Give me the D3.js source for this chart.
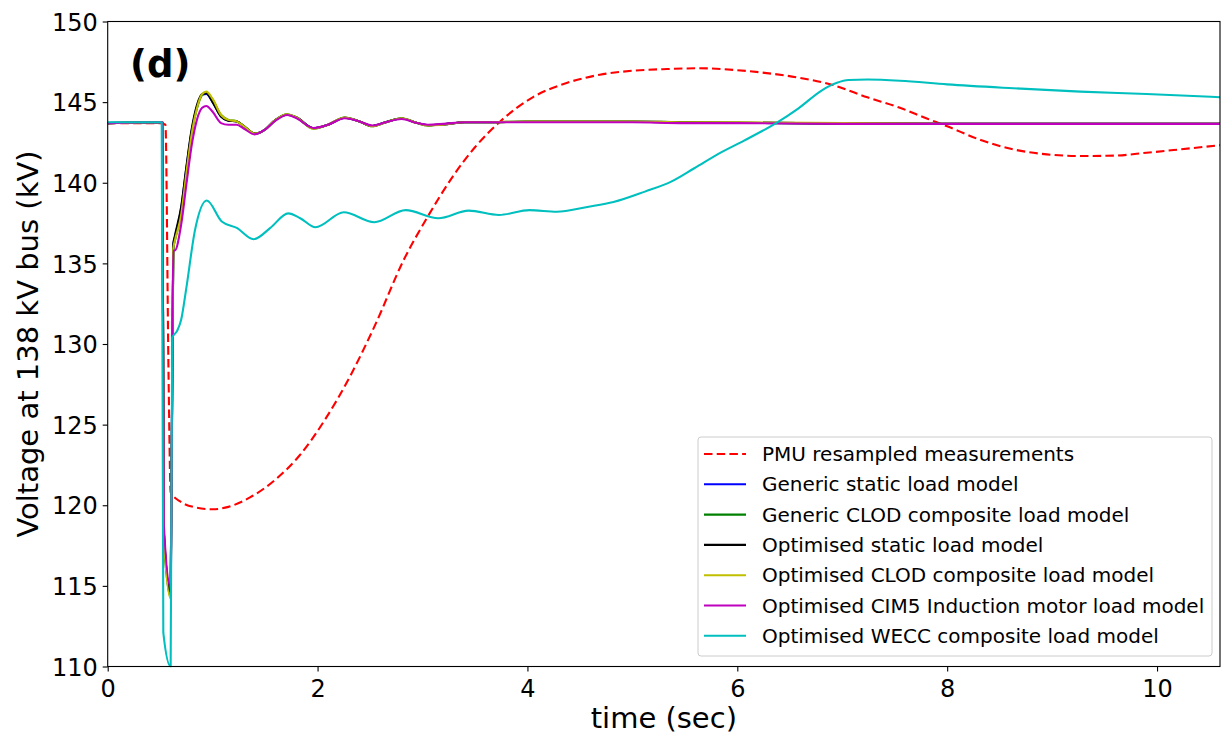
<!DOCTYPE html>
<html>
<head>
<meta charset="utf-8">
<script src="https://cdn.jsdelivr.net/npm/d3@7"></script>
<style>
  body { margin: 0; background: #fff; }
  text { font-family: "DejaVu Sans", sans-serif; }
</style>
</head>
<body>
<svg id="chart" width="1225" height="740"></svg>
<script>
// time axis ticks
const xTicks = [0, 2, 4, 6, 8, 10];
const yTicks = [110, 115, 120, 125, 130, 135, 140, 145, 150];

// PMU measurement (red dashed)
const tPmu = [0, 0.5, 0.55, 0.58, 0.6, 0.7, 0.85, 1.0, 1.15, 1.36, 1.6, 1.83, 2.07, 2.31, 2.55, 2.82, 3.05, 3.29, 3.5, 3.74,
  4.05, 4.38, 4.69, 5.01, 5.33, 5.64, 5.96, 6.28, 6.6, 6.91, 7.24, 7.55, 7.8, 8.0, 8.32, 8.63, 8.95, 9.27, 9.59, 9.9, 10.22, 10.62];
const vPmu = [143.7, 143.7, 143.6, 128, 120.8, 120.2, 119.85, 119.75, 119.9, 120.5, 121.6, 123.1, 125.3, 128.0, 131.2, 135.2, 137.9, 140.4, 142.2, 143.8,
  145.3, 146.2, 146.7, 146.95, 147.05, 147.1, 147.0, 146.8, 146.5, 146.06, 145.3, 144.65, 144.0, 143.5, 142.65, 142.07, 141.76, 141.66, 141.68, 141.86, 142.07, 142.34];

// static / CLOD / CIM5 models share one time base
const tMain = [0, 0.52, 0.535, 0.6, 0.625, 0.64, 0.7, 0.75, 0.8, 0.85, 0.9, 0.94, 1.0, 1.08, 1.15, 1.23, 1.3, 1.4, 1.5, 1.6, 1.71,
  1.8, 1.96, 2.1, 2.26, 2.4, 2.52, 2.65, 2.8, 2.95, 3.05, 3.2, 3.4, 3.6, 4.0, 4.5, 5.0, 5.5, 6.0, 7.0, 8.0, 9.0, 10.6];
const vGenStatic = [143.7, 143.75, 118.3, 114.6, 136.1, 136.6, 138.4, 140.9, 143.2, 144.7, 145.45, 145.5, 145.0, 144.1, 143.85, 143.8, 143.5, 143.05, 143.3, 143.9, 144.22,
  144.05, 143.38, 143.6, 144.03, 143.8, 143.52, 143.75, 143.98, 143.7, 143.57, 143.62, 143.75, 143.75, 143.78, 143.78, 143.78, 143.75, 143.72, 143.68, 143.65, 143.65, 143.65];
const vGenClod = [143.7, 143.75, 118.0, 114.3, 135.9, 136.4, 138.1, 140.7, 143.1, 144.6, 145.45, 145.6, 145.15, 144.2, 143.9, 143.8, 143.5, 143.05, 143.3, 143.9, 144.25,
  144.05, 143.36, 143.6, 144.05, 143.8, 143.5, 143.75, 144.0, 143.7, 143.55, 143.62, 143.75, 143.75, 143.8, 143.8, 143.8, 143.75, 143.72, 143.68, 143.65, 143.65, 143.65];
const vOptStatic = [143.7, 143.75, 118.3, 114.6, 136.2, 136.7, 138.5, 141.0, 143.3, 144.8, 145.5, 145.55, 145.0, 144.1, 143.85, 143.8, 143.5, 143.05, 143.3, 143.9, 144.22,
  144.05, 143.38, 143.6, 144.03, 143.8, 143.52, 143.75, 143.98, 143.7, 143.57, 143.62, 143.75, 143.75, 143.78, 143.78, 143.78, 143.75, 143.72, 143.68, 143.65, 143.65, 143.65];
const vOptClod = [143.7, 143.75, 118.0, 114.2, 135.9, 136.4, 138.0, 140.6, 143.0, 144.6, 145.5, 145.65, 145.2, 144.2, 143.9, 143.8, 143.5, 143.05, 143.3, 143.9, 144.25,
  144.05, 143.35, 143.6, 144.05, 143.8, 143.5, 143.75, 144.0, 143.7, 143.55, 143.6, 143.75, 143.75, 143.8, 143.8, 143.8, 143.75, 143.75, 143.7, 143.65, 143.65, 143.65];
const vOptCim5 = [143.7, 143.75, 118.8, 114.9, 135.8, 135.8, 137.4, 139.9, 142.3, 143.9, 144.65, 144.76, 144.4, 143.7, 143.6, 143.6, 143.35, 143.0, 143.3, 143.85, 144.2,
  144.0, 143.4, 143.6, 144.0, 143.8, 143.55, 143.75, 143.95, 143.7, 143.6, 143.65, 143.75, 143.75, 143.75, 143.75, 143.75, 143.7, 143.7, 143.65, 143.65, 143.65, 143.65];

// WECC composite model (cyan)
const tWecc = [0, 0.515, 0.53, 0.6, 0.615, 0.66, 0.7, 0.75, 0.83, 0.944, 1.087, 1.23, 1.39, 1.55, 1.72, 1.835, 1.98, 2.25, 2.54, 2.84, 3.15, 3.44, 3.73,
  4.02, 4.28, 4.57, 4.82, 5.12, 5.37, 5.59, 5.85, 6.06, 6.37, 6.58, 6.81, 6.95, 7.06, 7.24, 7.55, 8.0, 8.63, 9.27, 9.9, 10.62];
const vWecc = [143.75, 143.75, 112.1, 110.0, 130.4, 130.8, 131.5, 133.5, 137.0, 138.9, 137.6, 137.2, 136.5, 137.2, 138.1, 137.8, 137.24, 138.17, 137.55, 138.3, 137.8, 138.27, 138.0,
  138.3, 138.2, 138.5, 138.8, 139.45, 140.07, 140.9, 141.9, 142.6, 143.7, 144.6, 145.75, 146.2, 146.37, 146.4, 146.33, 146.1, 145.86, 145.65, 145.5, 145.3];

const seriesNames = ['PMU resampled measurements', 'Generic static load model', 'Generic CLOD composite load model',
  'Optimised static load model', 'Optimised CLOD composite load model', 'Optimised CIM5 Induction motor load model',
  'Optimised WECC composite load model'];
const seriesColors = ['#ff0000', '#0000ff', '#008000', '#000000', '#bfbf00', '#bf00bf', '#00bfbf'];

const series = [
  {t: tPmu, v: vPmu, dashed: true},
  {t: tMain, v: vGenStatic},
  {t: tMain, v: vGenClod},
  {t: tMain, v: vOptStatic},
  {t: tMain, v: vOptClod},
  {t: tMain, v: vOptCim5},
  {t: tWecc, v: vWecc}
].map((s, i) => ({...s, name: seriesNames[i], color: seriesColors[i]}));

const plotLeft = 107.7, plotRight = 1220, plotTop = 21.5, plotBottom = 666.5;
const dash = '8.5,4.2';

const x = d3.scaleLinear().domain([0, 10.6]).range([plotLeft, plotRight]);
const y = d3.scaleLinear().domain([110, 150]).range([plotBottom, plotTop]);

const svg = d3.select('#chart');

svg.append('defs').append('clipPath').attr('id', 'plot-clip')
  .append('rect')
  .attr('x', plotLeft).attr('y', plotTop - 1)
  .attr('width', plotRight - plotLeft).attr('height', plotBottom - plotTop + 2);

// lines
const line = d3.line()
  .x(d => x(d[0]))
  .y(d => y(d[1]))
  .curve(d3.curveMonotoneX);

const plot = svg.append('g').attr('clip-path', 'url(#plot-clip)');

series.forEach(s => {
  plot.append('path')
    .datum(s.t.map((t, i) => [t, s.v[i]]))
    .attr('fill', 'none')
    .attr('stroke', s.color)
    .attr('stroke-width', 2.1)
    .attr('stroke-linejoin', 'round')
    .attr('stroke-dasharray', s.dashed ? dash : null)
    .attr('d', line);
});

// axes
const xAxis = svg.append('g')
  .attr('transform', `translate(0,${plotBottom})`)
  .call(d3.axisBottom(x).tickValues(xTicks).tickFormat(d3.format('d')).tickSize(5).tickPadding(5));

const yAxis = svg.append('g')
  .attr('transform', `translate(${plotLeft},0)`)
  .call(d3.axisLeft(y).tickValues(yTicks).tickFormat(d3.format('d')).tickSize(5).tickPadding(5));

[xAxis, yAxis].forEach(a => {
  a.select('.domain').remove();
  a.selectAll('line').attr('stroke', '#000').attr('stroke-width', 1.1);
  a.selectAll('text').style('font-size', '24px').attr('fill', '#000');
});
xAxis.selectAll('text').attr('dy', '0.85em');
yAxis.selectAll('text').attr('dy', '0.36em');

// frame
svg.append('rect')
  .attr('x', plotLeft).attr('y', plotTop)
  .attr('width', plotRight - plotLeft).attr('height', plotBottom - plotTop)
  .attr('fill', 'none')
  .attr('stroke', '#000')
  .attr('stroke-width', 1.1);

// axis titles
svg.append('text').text('time (sec)')
  .attr('x', (plotLeft + plotRight) / 2).attr('y', 728)
  .attr('text-anchor', 'middle')
  .style('font-size', '29px');

svg.append('text').text('Voltage at 138 kV bus (kV)')
  .attr('transform', `translate(38,${(plotTop + plotBottom) / 2}) rotate(-90)`)
  .attr('text-anchor', 'middle')
  .style('font-size', '29px');

// panel label
svg.append('text').text('(d)')
  .attr('x', 130).attr('y', 77)
  .style('font-size', '37px')
  .style('font-weight', 'bold');

// legend
const legend = svg.append('g').attr('transform', 'translate(698,437)');
legend.append('rect')
  .attr('width', 514).attr('height', 219)
  .attr('rx', 3)
  .attr('fill', '#fff').attr('fill-opacity', 0.8)
  .attr('stroke', '#cccccc');

series.forEach((s, i) => {
  const row = legend.append('g').attr('transform', `translate(0,${17 + i * 30.3})`);
  row.append('line')
    .attr('x1', 6).attr('x2', 48)
    .attr('stroke', s.color).attr('stroke-width', 2.1)
    .attr('stroke-dasharray', s.dashed ? dash : null);
  row.append('text').text(s.name)
    .attr('x', 64).attr('dy', '0.35em')
    .style('font-size', '20px');
});
</script>
</body>
</html>
